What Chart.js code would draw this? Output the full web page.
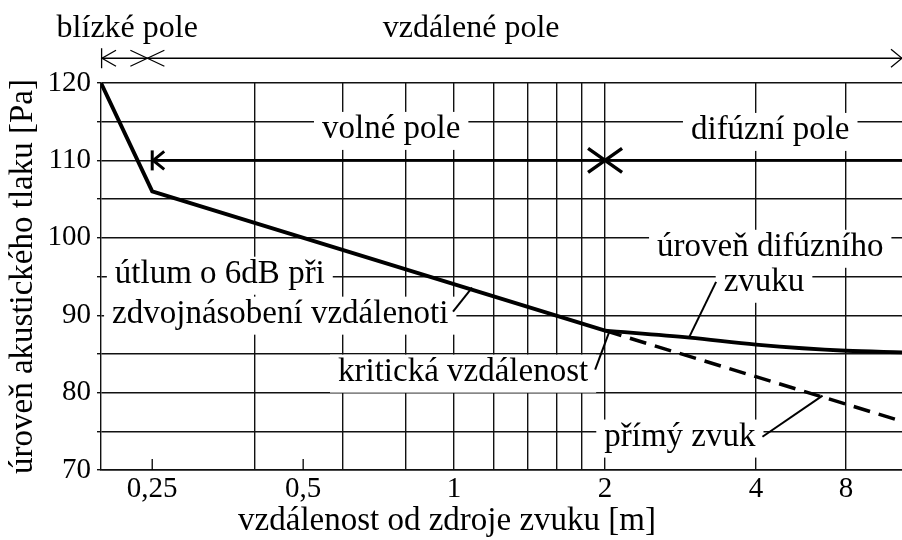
<!DOCTYPE html>
<html><head><meta charset="utf-8">
<script src="https://cdn.jsdelivr.net/npm/chart.js@4.4.1/dist/chart.umd.min.js"></script>
<style>html,body{margin:0;padding:0;background:#fff;}canvas{display:block;}</style>
</head><body>
<canvas id="c" width="902" height="540"></canvas>
<script>
// ---- data (x in metres on a log axis, y in the chart's units) ----
const xMin = 0.1976, xMax = 7.82;
const xTickValues = [0.25, 0.5, 1, 2, 4, 6.05];          // "8" sits where the picture puts it
const xTickLabels = ['0,25', '0,5', '1', '2', '4', '8'];
const xExtraGrid  = [0.4, 0.6, 0.8, 1.2, 1.4, 1.6, 1.8];
const yMin = 70, yMax = 120, yStep = 5;

const nearX = [0.1976, 0.25, 2];          const nearY = [120, 106, 88];
const diffuseX = [2, 2.95, 4, 6.05, 7.82]; const diffuseY = [88, 87.1, 86.2, 85.4, 85.2];
const directX = [2, 7.82];                 const directY = [88, 76.3];
const fieldX = [0.25, 7.82];               const fieldY = [110, 110];
const farFieldX = [xMin, xMax];            const farFieldY = [123.2, 123.2];
const nearFarBoundary = 0.2445;
const criticalDistance = 2;

const leaderLines = [
  [[0.995, 90.45], [1.086, 93.55]],
  [[1.911, 82.97], [2.036, 87.74]],
  [[2.94, 87.1],  [3.33, 94.3]],
  [[4.12, 74.3],  [5.43, 79.6]]
];
const labelTexts = ['blízké pole','vzdálené pole','volné pole','difúzní pole','úroveň difúzního','zvuku',
  'útlum o 6dB při','zdvojnásobení vzdálenoti','kritická vzdálenost','přímý zvuk'];
const labelX = [0.2229, 1.081, 0.749, 4.27, 4.27, 4.15, 0.341, 0.450, 1.042, 2.82];
const labelY = [126.84, 126.84, 113.81, 113.68, 98.58, 94.06, 95.1, 89.94, 82.45, 74.06];
const labelBoxed = [false, false, true, true, true, true, true, true, true, true];
const xTitle = 'vzdálenost od zdroje zvuku [m]';
const xTitleAt = 0.968;   // centre of the axis title, in axis units
const yTitle = 'úroveň akustického tlaku [Pa]';

const FONT = "'Liberation Serif', 'Times New Roman', serif";
const toPts = (xs, ys) => xs.map((x, i) => ({x, y: ys[i]}));

const ink = '#000';
const lineDs = (data, extra) => Object.assign({data, borderColor: ink, pointRadius: 0, fill: false, tension: 0}, extra);

const datasets = [
  lineDs(toPts(fieldX, fieldY), {borderWidth: 2.6}),
  lineDs(toPts(nearX, nearY), {borderWidth: 3.9}),
  lineDs(toPts(diffuseX, diffuseY), {borderWidth: 3.9, cubicInterpolationMode: 'monotone'}),
  lineDs(toPts(directX, directY), {borderWidth: 3.5, borderDash: [17, 9]}),
  ...leaderLines.map(l => lineDs(l.map(p => ({x: p[0], y: p[1]})), {borderWidth: 2}))
];

const deco = {
  id: 'deco',
  beforeDatasetsDraw(chart) {
    const {ctx} = chart, xs = chart.scales.x, ys = chart.scales.y;
    ctx.save();
    labelTexts.forEach((t, i) => {
      if (!labelBoxed[i]) return;
      ctx.font = '33px ' + FONT;
      const px = xs.getPixelForValue(labelX[i]), py = ys.getPixelForValue(labelY[i]);
      const w = ctx.measureText(t).width;
      ctx.fillStyle = '#fff';
      ctx.fillRect(px - w / 2 - 8, py - 19, w + 16, 38);
    });
    ctx.fillStyle = ink;
    ctx.textAlign = 'center';
    ctx.textBaseline = 'alphabetic';
    labelTexts.forEach((t, i) => {
      ctx.font = (labelBoxed[i] ? '33px ' : '32px ') + FONT;
      const px = xs.getPixelForValue(labelX[i]), py = ys.getPixelForValue(labelY[i]);
      ctx.fillText(t, px, py + 7);
    });
    // x axis title
    ctx.font = '33px ' + FONT;
    ctx.fillText(xTitle, xs.getPixelForValue(xTitleAt), chart.chartArea.bottom + 60);
    ctx.strokeStyle = ink; ctx.lineWidth = 1.3;
    [0.25, 0.5].forEach(v => {
      const px = xs.getPixelForValue(v);
      ctx.beginPath(); ctx.moveTo(px, chart.chartArea.bottom); ctx.lineTo(px, chart.chartArea.bottom - 11); ctx.stroke();
    });
    ctx.restore();
  },
  afterDatasetsDraw(chart) {
    const {ctx} = chart, xs = chart.scales.x, ys = chart.scales.y;
    ctx.save();
    ctx.strokeStyle = ink; ctx.lineCap = 'butt';
    const ty = ys.getPixelForValue(farFieldY[0]);
    const l = xs.getPixelForValue(farFieldX[0]), r = xs.getPixelForValue(farFieldX[1]);
    ctx.lineWidth = 1.3;
    ctx.beginPath(); ctx.moveTo(l, ty); ctx.lineTo(r, ty); ctx.stroke();
    ctx.beginPath(); ctx.moveTo(l + 0.6, ty - 10); ctx.lineTo(l + 0.6, ty + 10); ctx.stroke();
    ctx.beginPath(); ctx.moveTo(l + 15, ty - 8); ctx.lineTo(l + 1, ty); ctx.lineTo(l + 15, ty + 8); ctx.stroke();
    const bx = xs.getPixelForValue(nearFarBoundary);
    ctx.beginPath(); ctx.moveTo(bx - 17, ty - 8); ctx.lineTo(bx + 17, ty + 8);
    ctx.moveTo(bx - 17, ty + 8); ctx.lineTo(bx + 17, ty - 8); ctx.stroke();
    ctx.beginPath(); ctx.moveTo(r - 11, ty - 9); ctx.lineTo(r, ty); ctx.lineTo(r - 11, ty + 9); ctx.stroke();
    const fy = ys.getPixelForValue(fieldY[0]);
    const fx = xs.getPixelForValue(fieldX[0]);
    ctx.lineWidth = 3;
    ctx.beginPath(); ctx.moveTo(fx, fy - 10); ctx.lineTo(fx, fy + 10); ctx.stroke();
    ctx.beginPath(); ctx.moveTo(fx + 12, fy - 9); ctx.lineTo(fx + 1, fy); ctx.lineTo(fx + 12, fy + 9); ctx.stroke();
    const cx = xs.getPixelForValue(criticalDistance);
    ctx.lineWidth = 3.4;
    ctx.beginPath(); ctx.moveTo(cx - 17, fy - 12); ctx.lineTo(cx + 17, fy + 12);
    ctx.moveTo(cx - 17, fy + 12); ctx.lineTo(cx + 17, fy - 12); ctx.stroke();
    ctx.restore();
  }
};

const allXTicks = [...xTickValues, ...xExtraGrid].sort((a, b) => a - b);

new Chart(document.getElementById('c'), {
  type: 'line',
  data: {datasets},
  options: {
    responsive: false, animation: false, devicePixelRatio: 1,
    layout: {padding: {top: 83, right: 0, left: 0, bottom: 0}},
    plugins: {legend: {display: false}, tooltip: {enabled: false}},
    scales: {
      x: {
        type: 'logarithmic', min: xMin, max: xMax,
        afterBuildTicks: s => { s.ticks = allXTicks.map(v => ({value: v})); },
        afterFit: s => { s.height = 70; },
        ticks: {
          autoSkip: false, maxRotation: 0, padding: 2, color: ink,
          font: {family: FONT, size: 29},
          callback: v => { const i = xTickValues.indexOf(v); return i >= 0 ? xTickLabels[i] : ''; }
        },
        grid: {
          drawTicks: false, lineWidth: 1.4,
          color: c => (c.tick && (c.tick.value === 0.25 || c.tick.value === 0.5)) ? 'rgba(0,0,0,0)' : '#111'
        },
        border: {color: '#111', width: 1.4},
        title: {display: false}
      },
      y: {
        min: yMin, max: yMax,
        afterFit: s => { s.width = 101; },
        ticks: {stepSize: yStep, padding: 6, color: ink, font: {family: FONT, size: 29},
          callback: v => (v % 10 === 0 ? String(v) : '')},
        grid: {lineWidth: 1.4, color: '#111', tickLength: 4},
        border: {color: '#111', width: 1.4},
        title: {display: true, text: yTitle, color: ink,
          font: {family: FONT, size: 33}, padding: {top: 4, bottom: 0}}
      }
    }
  },
  plugins: [deco]
});
</script>
</body></html>
